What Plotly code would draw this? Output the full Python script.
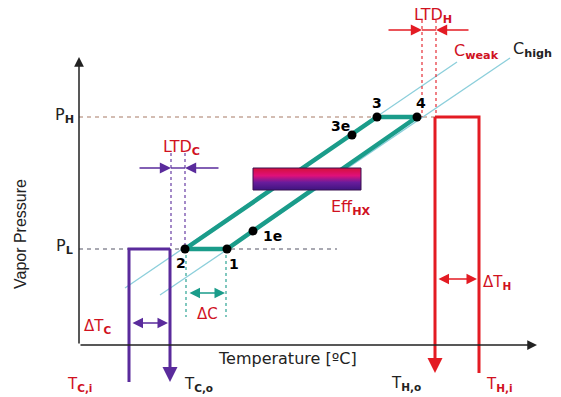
import plotly.graph_objects as go

W, H = 561, 397
FONT = "DejaVu Sans, Verdana, sans-serif"
FONT_NARROW = "Liberation Sans, Arial, sans-serif"
RED_TXT = "#d0121f"
RED = "#e31b23"
PURPLE = "#5a2b9c"
TEAL = "#1a9c8a"
LIGHT_BLUE = "#8ccfdb"
DARK = "#222222"

# Diagram frame (diagram units, y measured downward)
origin_T, origin_P = 79, 345
axis_T_end, axis_P_end = 537, 57

# Pressure levels
P_H = 117
P_L = 249

# Cycle states
state_names = ["1", "2", "3", "4", "1e", "3e"]
state_T = [227, 185, 377, 417, 253, 352]
state_P = [249, 249, 117, 117, 231, 135]
loop_order = ["2", "3", "4", "1", "2"]

# Label positions for each state
state_label_T = [234, 181, 377, 421, 272, 340]
state_label_P = [264, 263, 103, 103, 236, 126]

# Iso-concentration lines
cweak_T = [125, 457]
cweak_P = [288, 62]
chigh_T = [160, 510]
chigh_P = [295, 58]

# Cold stream (in / out) and hot stream (out / in)
T_ci, T_co, cold_bottom = 129, 170, 382
T_ho, T_hi, hot_top, hot_bottom = 435, 479, 117, 373

# Approach temperature markers
ltdc_T = [171, 185]
ltdc_P = [153, 249]
ltdc_arrow_P, ltdc_arrow_span = 168, [138, 220]
dc_T = [186, 226]
dc_P = [249, 317]
dc_arrow_P = 293
dtc_arrow_P = 323
ltdh_T = [422, 436]
ltdh_P = [20, 117]
ltdh_arrow_P, ltdh_arrow_span = 30, [387, 470]
dth_arrow_P = 279

# Heat exchanger effectiveness bar
eff_T = [253, 361]
eff_P = [168, 190]
eff_colors = [[0.0, "#d4103a"], [0.35, "#e0107a"], [0.65, "#6a1c9c"], [1.0, "#3e1580"]]

fig = go.Figure()


def seg(xs, ys, color, width, dash="solid"):
    fig.add_trace(go.Scatter(x=xs, y=ys, mode="lines",
                             line=dict(color=color, width=width, dash=dash),
                             hoverinfo="skip", showlegend=False))


def arrow(x0, y0, x1, y1, color, width, size=1.0, both=False, head=2):
    fig.add_annotation(x=x1, y=y1, ax=x0, ay=y0, xref="x", yref="y",
                       axref="x", ayref="y", text="", showarrow=True,
                       arrowhead=head, startarrowhead=head, arrowsize=size,
                       startarrowsize=size, arrowwidth=width, arrowcolor=color,
                       arrowside="end+start" if both else "end",
                       standoff=0, startstandoff=0)


def label(x, y, main, sub=None, color=DARK, size=15, bold=False, angle=0, family=FONT):
    text = f"<b>{main}</b>" if bold else main
    if sub:
        text += f"<sub><b>{sub}</b></sub>"
    fig.add_annotation(x=x, y=y, xref="x", yref="y", text=text,
                       showarrow=False, xanchor="center", yanchor="middle",
                       textangle=angle, font=dict(family=family, size=size, color=color))


# Pressure levels
seg([origin_T, T_ho], [P_H, P_H], "#a87a66", 1.1, "4px,4px")
seg([origin_T, 337], [P_L, P_L], "#555566", 1.1, "4px,4px")

# Iso-concentration lines
seg(cweak_T, cweak_P, LIGHT_BLUE, 1.3)
seg(chigh_T, chigh_P, LIGHT_BLUE, 1.3)

# Approach temperature guide lines
for t in ltdc_T:
    seg([t, t], ltdc_P, PURPLE, 1.1, "3px,3px")
for t in dc_T:
    seg([t, t], dc_P, TEAL, 1.1, "3px,3px")
for t in ltdh_T:
    seg([t, t], ltdh_P, RED, 1.1, "3px,3px")

# Cycle loop
idx = {n: i for i, n in enumerate(state_names)}
seg([state_T[idx[n]] for n in loop_order], [state_P[idx[n]] for n in loop_order], TEAL, 4.5)

# Heat exchanger bar drawn on top of the loop
fig.add_trace(go.Scatter(
    x=[eff_T[0], eff_T[1], eff_T[1], eff_T[0], eff_T[0]],
    y=[eff_P[0], eff_P[0], eff_P[1], eff_P[1], eff_P[0]],
    mode="lines", fill="toself",
    fillgradient=dict(type="vertical", colorscale=eff_colors, start=eff_P[0], stop=eff_P[1]),
    line=dict(color="#3a1050", width=1), hoverinfo="skip", showlegend=False))

# State points
fig.add_trace(go.Scatter(x=state_T, y=state_P, mode="markers",
                         marker=dict(color="black", size=9),
                         hoverinfo="skip", showlegend=False))

# Cold stream
seg([T_ci, T_ci, T_co], [cold_bottom, P_L, P_L], PURPLE, 3)
arrow(T_co, P_L - 1.5, T_co, cold_bottom, PURPLE, 3, size=1.0)

# Hot stream
seg([T_hi, T_hi, T_ho], [hot_bottom, hot_top, hot_top], RED, 3)
arrow(T_ho, hot_top - 1.5, T_ho, hot_bottom, RED, 3, size=1.0)

# Axes
arrow(origin_T, origin_P, origin_T, axis_P_end, DARK, 1.5, size=1.3)
arrow(origin_T, origin_P, axis_T_end, origin_P, DARK, 1.5, size=1.3)

# Difference arrows
arrow(ltdc_arrow_span[0], ltdc_arrow_P, ltdc_T[0], ltdc_arrow_P, PURPLE, 1.4, size=1.6)
seg([ltdc_T[0], ltdc_T[1]], [ltdc_arrow_P, ltdc_arrow_P], PURPLE, 1.4)
arrow(ltdc_arrow_span[1], ltdc_arrow_P, ltdc_T[1], ltdc_arrow_P, PURPLE, 1.4, size=1.6)
arrow(dc_T[0] + 2, dc_arrow_P, dc_T[1] - 1, dc_arrow_P, TEAL, 1.4, size=1.5, both=True)
arrow(T_ci + 2, dtc_arrow_P, T_co - 2, dtc_arrow_P, PURPLE, 1.4, size=1.5, both=True)
arrow(ltdh_arrow_span[0], ltdh_arrow_P, ltdh_T[0], ltdh_arrow_P, RED, 1.4, size=1.6)
seg([ltdh_T[0], ltdh_T[1]], [ltdh_arrow_P, ltdh_arrow_P], RED, 1.4)
arrow(ltdh_arrow_span[1], ltdh_arrow_P, ltdh_T[1], ltdh_arrow_P, RED, 1.4, size=1.6)
arrow(T_ho + 2, dth_arrow_P, T_hi - 2, dth_arrow_P, RED, 1.4, size=1.5, both=True)

# State labels
for n, x, y in zip(state_names, state_label_T, state_label_P):
    label(x, y, n, color="black", size=14, bold=True)

# Text labels
label(64, 115, "P", "H", DARK, 16)
label(64, 246, "P", "L", DARK, 16)
label(181, 147, "LTD", "C", RED_TXT, 16)
label(207, 314, "ΔC", None, RED_TXT, 15)
label(97, 326, "ΔT", "C", RED_TXT, 15)
label(79, 384, "T", "C,i", RED_TXT, 15)
label(198, 384, "T", "C,o", DARK, 15)
label(287, 358, "Temperature [ºC]", None, DARK, 16)
label(20, 234, "Vapor Pressure", None, DARK, 16, angle=-90, family=FONT_NARROW)
label(433, 15, "LTD", "H", RED_TXT, 16)
label(476, 51, "C", "weak", RED_TXT, 16)
label(532, 49, "C", "high", DARK, 16)
label(351, 207, "Eff", "HX", RED_TXT, 16)
label(497, 282, "ΔT", "H", RED_TXT, 15)
label(406, 383, "T", "H,o", DARK, 15)
label(499, 384, "T", "H,i", RED_TXT, 15)

fig.update_layout(
    width=W, height=H, margin=dict(l=0, r=0, t=0, b=0),
    paper_bgcolor="white", plot_bgcolor="white", showlegend=False,
    xaxis=dict(range=[0, W], visible=False, fixedrange=True),
    yaxis=dict(range=[H, 0], visible=False, fixedrange=True),
)

fig.write_html("out.html")
